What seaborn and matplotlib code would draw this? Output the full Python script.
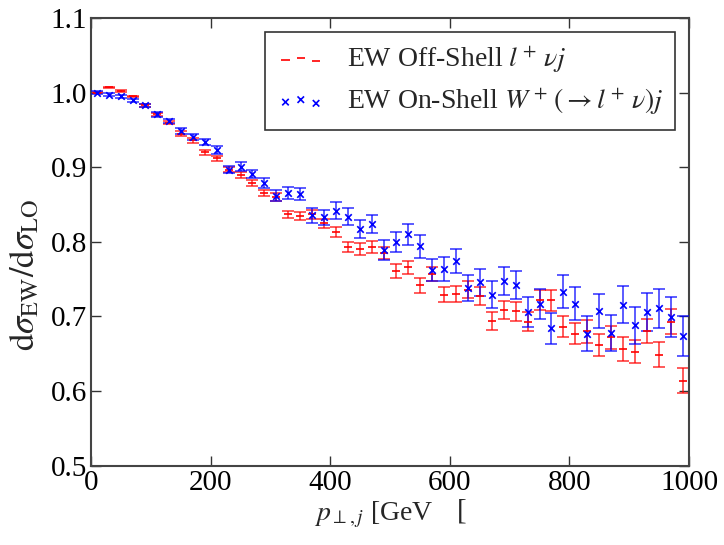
import numpy as np
import pandas as pd
import matplotlib
matplotlib.use("Agg")
import matplotlib.pyplot as plt
import seaborn as sns

# ---- data ----
pt = [10, 30, 50, 70, 90, 110, 130, 150, 170, 190,
      210, 230, 250, 270, 290, 310, 330, 350, 370, 390,
      410, 430, 450, 470, 490, 510, 530, 550, 570, 590,
      610, 630, 650, 670, 690, 710, 730, 750, 770, 790,
      810, 830, 850, 870, 890, 910, 930, 950, 970, 990]

offshell = [1.000, 1.007, 1.002, 0.995, 0.983, 0.971, 0.960, 0.945, 0.936, 0.920,
            0.912, 0.897, 0.890, 0.879, 0.866, 0.860, 0.837, 0.835, 0.837, 0.825,
            0.813, 0.793, 0.791, 0.793, 0.785, 0.761, 0.766, 0.742, 0.757, 0.729,
            0.730, 0.736, 0.727, 0.694, 0.709, 0.707, 0.693, 0.722, 0.722, 0.686,
            0.677, 0.680, 0.662, 0.672, 0.657, 0.653, 0.680, 0.649, 0.693, 0.614]

onshell = [1.000, 0.997, 0.995, 0.990, 0.983, 0.971, 0.962, 0.949, 0.941, 0.934,
           0.923, 0.897, 0.901, 0.891, 0.879, 0.862, 0.866, 0.864, 0.836, 0.833,
           0.842, 0.834, 0.817, 0.824, 0.789, 0.800, 0.810, 0.794, 0.762, 0.764,
           0.774, 0.738, 0.746, 0.729, 0.748, 0.742, 0.706, 0.717, 0.684, 0.733,
           0.717, 0.677, 0.707, 0.678, 0.716, 0.688, 0.706, 0.711, 0.699, 0.674]

onshell_err = [0.002, 0.002, 0.002, 0.002, 0.002, 0.003, 0.003, 0.004, 0.004, 0.004,
               0.005, 0.005, 0.006, 0.006, 0.007, 0.007, 0.008, 0.008, 0.010, 0.010,
               0.011, 0.011, 0.012, 0.012, 0.013, 0.013, 0.014, 0.015, 0.015, 0.016,
               0.016, 0.017, 0.018, 0.018, 0.019, 0.019, 0.020, 0.020, 0.021, 0.022,
               0.022, 0.023, 0.023, 0.024, 0.025, 0.025, 0.026, 0.026, 0.027, 0.027]

offshell_err = [0.001, 0.001, 0.001, 0.001, 0.002, 0.002, 0.002, 0.003, 0.003, 0.003,
                0.003, 0.003, 0.004, 0.004, 0.004, 0.005, 0.005, 0.005, 0.006, 0.006,
                0.007, 0.007, 0.008, 0.008, 0.008, 0.009, 0.009, 0.010, 0.010, 0.010,
                0.011, 0.011, 0.012, 0.012, 0.012, 0.013, 0.013, 0.013, 0.014, 0.014,
                0.014, 0.015, 0.015, 0.015, 0.016, 0.016, 0.016, 0.017, 0.017, 0.017]

label_off = r"EW Off-Shell $l^+\,\nu j$"
label_on = r"EW On-Shell $W^+\,(\to l^+\,\nu)j$"

x_ticks = [0, 200, 400, 600, 800, 1000]
y_ticks = [0.5, 0.6, 0.7, 0.8, 0.9, 1.0, 1.1]

df = pd.DataFrame({"pt": pt, "off": offshell, "on": onshell,
                   "off_err": offshell_err, "on_err": onshell_err})

# ---- style ----
sns.set_style("ticks")
plt.rcParams["font.family"] = ["Liberation Serif", "DejaVu Serif"]
plt.rcParams["mathtext.fontset"] = "stix"
plt.rcParams["xtick.direction"] = "in"
plt.rcParams["ytick.direction"] = "in"
plt.rcParams["xtick.top"] = True
plt.rcParams["ytick.right"] = True

fig = plt.figure(figsize=(7.24, 5.45), dpi=100)
ax = fig.add_axes([0.1257, 0.1455, 0.8260, 0.8213])

# error bars
ax.errorbar(df["pt"], df["off"], yerr=df["off_err"], fmt="none", ecolor="red",
            elinewidth=1.2, capsize=4, capthick=1.2, alpha=0.75, zorder=2)
ax.errorbar(df["pt"], df["on"], yerr=df["on_err"], fmt="none", ecolor="blue",
            elinewidth=1.2, capsize=4, capthick=1.2, alpha=0.75, zorder=3)

# markers
sns.scatterplot(data=df, x="pt", y="off", ax=ax, marker="_", color="red",
                s=35, linewidth=1.2, label=label_off, zorder=4, legend=False)
sns.scatterplot(data=df, x="pt", y="on", ax=ax, marker="x", color="blue",
                s=22, linewidth=1.2, label=label_on, zorder=5, legend=False)

ax.set_xlim(0, 1000)
ax.set_ylim(0.5, 1.1)
ax.set_xticks(x_ticks)
ax.set_yticks(y_ticks)
ax.set_xticklabels([str(v) for v in x_ticks])
ax.set_yticklabels([f"{v:.1f}" for v in y_ticks])
ax.tick_params(axis="both", labelsize=21, length=7, width=1, colors="#333333",
               labelcolor="black", pad=3)

for sp in ax.spines.values():
    sp.set_visible(True)
    sp.set_color("#444444")
    sp.set_linewidth(1.5)

ax.set_ylabel(r"$\mathrm{d}\sigma_{\mathrm{EW}}/\mathrm{d}\sigma_{\mathrm{LO}}$",
              fontsize=25)
ax.yaxis.set_label_coords(-0.082, 0.425)
ax.set_xlabel(r"$p_{\perp,j}$ [GeV", fontsize=20, labelpad=2)
ax.xaxis.set_label_coords(0.473, -0.075)
fig.text(0.638, 0.038, "[", fontsize=21, ha="center", va="bottom")

handles = [c for c in ax.collections if c.get_label() in (label_off, label_on)]
leg = ax.legend(handles=handles, labels=[label_off, label_on], loc="upper right",
                scatterpoints=3, fontsize=20, frameon=True, fancybox=False,
                edgecolor="black", borderaxespad=0.5, handletextpad=0.8,
                handlelength=1.7, labelspacing=0.4, borderpad=0.45,
                bbox_to_anchor=(1.0, 1.0))
leg.get_frame().set_linewidth(1.2)

fig.savefig("out.png", dpi=100)
